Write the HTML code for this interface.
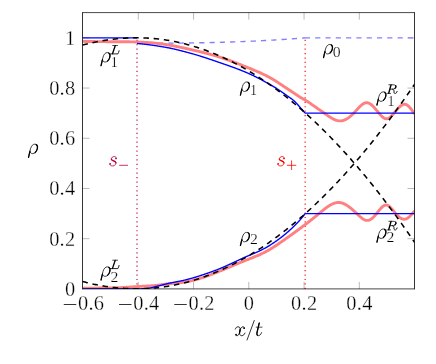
<!DOCTYPE html>
<html><head><meta charset="utf-8"><title>plot</title>
<style>html,body{margin:0;padding:0;background:#fff;}body{width:436px;height:364px;overflow:hidden;font-family:"Liberation Serif",serif;}svg{display:block;}</style>
</head><body>
<svg width="436" height="364" viewBox="0 0 436 364">
<rect width="436" height="364" fill="#fff"/>
<defs><clipPath id="c"><rect x="82.5" y="12.6" width="332.0" height="276.29999999999995"/></clipPath></defs>
<path d="M138.30,288.9 v-7 M138.30,12.6 v7 M193.56,288.9 v-7 M193.56,12.6 v7 M248.81,288.9 v-7 M248.81,12.6 v7 M304.06,288.9 v-7 M304.06,12.6 v7 M359.32,288.9 v-7 M359.32,12.6 v7 M82.5,238.69 h7 M414.5,238.69 h-7 M82.5,188.48 h7 M414.5,188.48 h-7 M82.5,138.27 h7 M414.5,138.27 h-7 M82.5,88.06 h7 M414.5,88.06 h-7 M82.5,37.85 h7 M414.5,37.85 h-7" stroke="#808080" stroke-width="0.55" fill="none"/>
<g clip-path="url(#c)" fill="none" stroke-linejoin="round">
<path d="M137.0,288.95 V39" stroke="#bf0040" stroke-width="1.15" stroke-dasharray="1.2 3.229"/>
<path d="M305.15,288.95 V36.5" stroke="#ff0000" stroke-width="1.15" stroke-dasharray="1.2 3.229"/>
<path d="M137.00,43.25 L137.00,43.25 L138.70,43.25 L140.40,43.25 L142.10,43.25 L143.79,43.25 L145.49,43.24 L147.19,43.24 L148.89,43.24 L150.59,43.24 L152.29,43.23 L153.98,43.23 L155.68,43.23 L157.38,43.22 L159.08,43.21 L160.78,43.21 L162.48,43.20 L164.18,43.19 L165.87,43.18 L167.57,43.17 L169.27,43.16 L170.97,43.15 L172.67,43.14 L174.37,43.12 L176.07,43.11 L177.76,43.09 L179.46,43.07 L181.16,43.06 L182.86,43.04 L184.56,43.02 L186.26,43.00 L187.95,42.97 L189.65,42.95 L191.35,42.93 L193.05,42.90 L194.75,42.87 L196.45,42.85 L198.15,42.82 L199.84,42.79 L201.54,42.75 L203.24,42.72 L204.94,42.69 L206.64,42.65 L208.34,42.61 L210.03,42.58 L211.73,42.54 L213.43,42.50 L215.13,42.45 L216.83,42.41 L218.53,42.36 L220.23,42.32 L221.92,42.27 L223.62,42.22 L225.32,42.17 L227.02,42.12 L228.72,42.06 L230.42,42.01 L232.12,41.95 L233.81,41.89 L235.51,41.83 L237.21,41.77 L238.91,41.70 L240.61,41.64 L242.31,41.57 L244.00,41.50 L245.70,41.43 L247.40,41.36 L249.10,41.29 L250.80,41.21 L252.50,41.14 L254.20,41.06 L255.89,40.98 L257.59,40.90 L259.29,40.81 L260.99,40.73 L262.69,40.64 L264.39,40.55 L266.08,40.46 L267.78,40.37 L269.48,40.27 L271.18,40.18 L272.88,40.08 L274.58,39.98 L276.28,39.88 L277.97,39.77 L279.67,39.67 L281.37,39.56 L283.07,39.45 L284.77,39.34 L286.47,39.23 L288.17,39.11 L289.86,38.99 L291.56,38.88 L293.26,38.75 L294.96,38.63 L296.66,38.51 L298.36,38.38 L300.05,38.25 L301.75,38.12 L303.45,37.99 L305.15,37.85" stroke="#8080ff" stroke-width="1.36" stroke-dasharray="5.2 5.1" stroke-dashoffset="-0.4"/>
<path d="M304.84999999999997,37.85 H414.5" stroke="#8080ff" stroke-width="1.36" stroke-dasharray="5.2 5.1"/>
<path d="M82.50,41.40 L83.05,41.41 L83.61,41.42 L84.16,41.42 L84.72,41.43 L85.27,41.44 L85.83,41.45 L86.38,41.45 L86.93,41.46 L87.49,41.47 L88.04,41.48 L88.60,41.48 L89.15,41.49 L89.71,41.50 L90.26,41.51 L90.81,41.51 L91.37,41.52 L91.92,41.53 L92.48,41.54 L93.03,41.54 L93.59,41.55 L94.14,41.56 L94.69,41.56 L95.25,41.57 L95.80,41.58 L96.36,41.58 L96.91,41.59 L97.46,41.60 L98.02,41.60 L98.57,41.61 L99.13,41.61 L99.68,41.62 L100.24,41.63 L100.79,41.63 L101.34,41.64 L101.90,41.64 L102.45,41.65 L103.01,41.65 L103.56,41.66 L104.12,41.66 L104.67,41.67 L105.22,41.67 L105.78,41.67 L106.33,41.68 L106.89,41.68 L107.44,41.69 L108.00,41.69 L108.55,41.69 L109.10,41.70 L109.66,41.70 L110.21,41.70 L110.77,41.70 L111.32,41.71 L111.88,41.71 L112.43,41.71 L112.98,41.71 L113.54,41.71 L114.09,41.71 L114.65,41.72 L115.20,41.72 L115.76,41.72 L116.31,41.72 L116.86,41.72 L117.42,41.72 L117.97,41.73 L118.53,41.73 L119.08,41.73 L119.64,41.73 L120.19,41.73 L120.74,41.74 L121.30,41.74 L121.85,41.74 L122.41,41.75 L122.96,41.75 L123.52,41.75 L124.07,41.76 L124.62,41.76 L125.18,41.77 L125.73,41.77 L126.29,41.78 L126.84,41.78 L127.39,41.79 L127.95,41.80 L128.50,41.81 L129.06,41.81 L129.61,41.82 L130.17,41.83 L130.72,41.84 L131.27,41.85 L131.83,41.86 L132.38,41.87 L132.94,41.89 L133.49,41.90 L134.05,41.91 L134.60,41.93 L135.15,41.94 L135.71,41.96 L136.26,41.98 L136.82,41.99 L137.37,42.01 L137.93,42.03 L138.48,42.05 L139.03,42.07 L139.59,42.10 L140.14,42.12 L140.70,42.14 L141.25,42.17 L141.81,42.19 L142.36,42.22 L142.91,42.25 L143.47,42.28 L144.02,42.31 L144.58,42.34 L145.13,42.37 L145.69,42.41 L146.24,42.44 L146.79,42.48 L147.35,42.51 L147.90,42.55 L148.46,42.59 L149.01,42.63 L149.57,42.67 L150.12,42.72 L150.67,42.76 L151.23,42.81 L151.78,42.85 L152.34,42.90 L152.89,42.95 L153.44,43.00 L154.00,43.05 L154.55,43.11 L155.11,43.16 L155.66,43.22 L156.22,43.28 L156.77,43.34 L157.32,43.40 L157.88,43.46 L158.43,43.52 L158.99,43.59 L159.54,43.65 L160.10,43.72 L160.65,43.79 L161.20,43.87 L161.76,43.94 L162.31,44.01 L162.87,44.09 L163.42,44.17 L163.98,44.25 L164.53,44.33 L165.08,44.41 L165.64,44.50 L166.19,44.58 L166.75,44.67 L167.30,44.76 L167.86,44.85 L168.41,44.95 L168.96,45.04 L169.52,45.14 L170.07,45.24 L170.63,45.33 L171.18,45.43 L171.74,45.54 L172.29,45.64 L172.84,45.74 L173.40,45.85 L173.95,45.96 L174.51,46.06 L175.06,46.17 L175.62,46.28 L176.17,46.39 L176.72,46.51 L177.28,46.62 L177.83,46.73 L178.39,46.85 L178.94,46.96 L179.49,47.08 L180.05,47.20 L180.60,47.32 L181.16,47.43 L181.71,47.55 L182.27,47.67 L182.82,47.79 L183.37,47.92 L183.93,48.04 L184.48,48.16 L185.04,48.28 L185.59,48.41 L186.15,48.53 L186.70,48.65 L187.25,48.78 L187.81,48.90 L188.36,49.03 L188.92,49.15 L189.47,49.28 L190.03,49.41 L190.58,49.53 L191.13,49.66 L191.69,49.78 L192.24,49.91 L192.80,50.04 L193.35,50.16 L193.91,50.29 L194.46,50.42 L195.01,50.55 L195.57,50.67 L196.12,50.80 L196.68,50.93 L197.23,51.06 L197.79,51.19 L198.34,51.32 L198.89,51.46 L199.45,51.59 L200.00,51.72 L200.56,51.85 L201.11,51.99 L201.67,52.12 L202.22,52.26 L202.77,52.39 L203.33,52.53 L203.88,52.67 L204.44,52.81 L204.99,52.95 L205.55,53.09 L206.10,53.23 L206.65,53.37 L207.21,53.52 L207.76,53.66 L208.32,53.81 L208.87,53.96 L209.42,54.10 L209.98,54.25 L210.53,54.40 L211.09,54.56 L211.64,54.71 L212.20,54.86 L212.75,55.02 L213.30,55.18 L213.86,55.34 L214.41,55.50 L214.97,55.66 L215.52,55.82 L216.08,55.99 L216.63,56.15 L217.18,56.32 L217.74,56.49 L218.29,56.66 L218.85,56.83 L219.40,57.01 L219.96,57.19 L220.51,57.36 L221.06,57.54 L221.62,57.73 L222.17,57.91 L222.73,58.09 L223.28,58.28 L223.84,58.47 L224.39,58.66 L224.94,58.85 L225.50,59.04 L226.05,59.24 L226.61,59.43 L227.16,59.63 L227.72,59.83 L228.27,60.03 L228.82,60.23 L229.38,60.43 L229.93,60.63 L230.49,60.84 L231.04,61.04 L231.60,61.25 L232.15,61.46 L232.70,61.67 L233.26,61.88 L233.81,62.09 L234.37,62.30 L234.92,62.51 L235.47,62.72 L236.03,62.94 L236.58,63.15 L237.14,63.37 L237.69,63.59 L238.25,63.80 L238.80,64.02 L239.35,64.24 L239.91,64.46 L240.46,64.68 L241.02,64.90 L241.57,65.12 L242.13,65.34 L242.68,65.56 L243.23,65.78 L243.79,66.01 L244.34,66.23 L244.90,66.45 L245.45,66.67 L246.01,66.90 L246.56,67.12 L247.11,67.34 L247.67,67.57 L248.22,67.79 L248.78,68.02 L249.33,68.24 L249.89,68.46 L250.44,68.69 L250.99,68.92 L251.55,69.14 L252.10,69.37 L252.66,69.60 L253.21,69.83 L253.77,70.06 L254.32,70.29 L254.87,70.52 L255.43,70.75 L255.98,70.99 L256.54,71.23 L257.09,71.46 L257.65,71.70 L258.20,71.95 L258.75,72.19 L259.31,72.43 L259.86,72.68 L260.42,72.93 L260.97,73.18 L261.53,73.44 L262.08,73.70 L262.63,73.96 L263.19,74.22 L263.74,74.48 L264.30,74.75 L264.85,75.02 L265.40,75.29 L265.96,75.57 L266.51,75.85 L267.07,76.13 L267.62,76.42 L268.18,76.71 L268.73,77.00 L269.28,77.30 L269.84,77.60 L270.39,77.91 L270.95,78.21 L271.50,78.53 L272.06,78.84 L272.61,79.17 L273.16,79.49 L273.72,79.82 L274.27,80.15 L274.83,80.49 L275.38,80.84 L275.94,81.18 L276.49,81.54 L277.04,81.89 L277.60,82.25 L278.15,82.61 L278.71,82.98 L279.26,83.35 L279.82,83.72 L280.37,84.09 L280.92,84.46 L281.48,84.83 L282.03,85.21 L282.59,85.58 L283.14,85.95 L283.70,86.33 L284.25,86.70 L284.80,87.07 L285.36,87.44 L285.91,87.81 L286.47,88.17 L287.02,88.54 L287.58,88.90 L288.13,89.27 L288.68,89.63 L289.24,89.99 L289.79,90.35 L290.35,90.72 L290.90,91.08 L291.45,91.44 L292.01,91.81 L292.56,92.17 L293.12,92.54 L293.67,92.91 L294.23,93.28 L294.78,93.65 L295.33,94.03 L295.89,94.40 L296.44,94.78 L297.00,95.15 L297.55,95.52 L298.11,95.89 L298.66,96.25 L299.21,96.61 L299.77,96.96 L300.32,97.30 L300.88,97.63 L301.43,97.95 L301.99,98.27 L302.54,98.58 L303.09,98.90 L303.65,99.21 L304.20,99.53 L304.76,99.86 L305.31,100.19 L305.87,100.52 L306.42,100.87 L306.97,101.22 L307.53,101.57 L308.08,101.94 L308.64,102.30 L309.19,102.67 L309.75,103.05 L310.30,103.43 L310.85,103.81 L311.41,104.19 L311.96,104.58 L312.52,104.96 L313.07,105.35 L313.63,105.74 L314.18,106.13 L314.73,106.51 L315.29,106.90 L315.84,107.29 L316.40,107.67 L316.95,108.05 L317.51,108.44 L318.06,108.82 L318.61,109.20 L319.17,109.59 L319.72,109.97 L320.28,110.35 L320.83,110.74 L321.38,111.12 L321.94,111.51 L322.49,111.90 L323.05,112.29 L323.60,112.68 L324.16,113.07 L324.71,113.46 L325.26,113.86 L325.82,114.26 L326.37,114.65 L326.93,115.04 L327.48,115.43 L328.04,115.82 L328.59,116.20 L329.14,116.57 L329.70,116.93 L330.25,117.29 L330.81,117.64 L331.36,117.97 L331.92,118.29 L332.47,118.60 L333.02,118.90 L333.58,119.18 L334.13,119.44 L334.69,119.68 L335.24,119.91 L335.80,120.11 L336.35,120.30 L336.90,120.46 L337.46,120.60 L338.01,120.71 L338.57,120.80 L339.12,120.86 L339.68,120.89 L340.23,120.90 L340.78,120.87 L341.34,120.82 L341.89,120.74 L342.45,120.63 L343.00,120.49 L343.56,120.32 L344.11,120.13 L344.66,119.92 L345.22,119.67 L345.77,119.41 L346.33,119.12 L346.88,118.80 L347.43,118.46 L347.99,118.10 L348.54,117.72 L349.10,117.32 L349.65,116.89 L350.21,116.45 L350.76,115.98 L351.31,115.50 L351.87,114.99 L352.42,114.47 L352.98,113.93 L353.53,113.38 L354.09,112.80 L354.64,112.21 L355.19,111.61 L355.75,111.01 L356.30,110.39 L356.86,109.78 L357.41,109.17 L357.97,108.57 L358.52,107.98 L359.07,107.40 L359.63,106.84 L360.18,106.30 L360.74,105.78 L361.29,105.29 L361.85,104.83 L362.40,104.41 L362.95,104.02 L363.51,103.68 L364.06,103.38 L364.62,103.13 L365.17,102.93 L365.73,102.79 L366.28,102.71 L366.83,102.69 L367.39,102.74 L367.94,102.85 L368.50,103.03 L369.05,103.26 L369.61,103.55 L370.16,103.88 L370.71,104.27 L371.27,104.69 L371.82,105.16 L372.38,105.67 L372.93,106.20 L373.48,106.77 L374.04,107.36 L374.59,107.97 L375.15,108.61 L375.70,109.25 L376.26,109.91 L376.81,110.58 L377.36,111.25 L377.92,111.92 L378.47,112.59 L379.03,113.25 L379.58,113.90 L380.14,114.54 L380.69,115.15 L381.24,115.73 L381.80,116.28 L382.35,116.80 L382.91,117.26 L383.46,117.68 L384.02,118.04 L384.57,118.33 L385.12,118.56 L385.68,118.72 L386.23,118.79 L386.79,118.78 L387.34,118.69 L387.90,118.52 L388.45,118.28 L389.00,117.97 L389.56,117.61 L390.11,117.18 L390.67,116.71 L391.22,116.20 L391.78,115.64 L392.33,115.06 L392.88,114.44 L393.44,113.81 L393.99,113.16 L394.55,112.50 L395.10,111.83 L395.66,111.17 L396.21,110.51 L396.76,109.85 L397.32,109.21 L397.87,108.59 L398.43,107.99 L398.98,107.42 L399.54,106.88 L400.09,106.37 L400.64,105.91 L401.20,105.49 L401.75,105.13 L402.31,104.81 L402.86,104.56 L403.41,104.37 L403.97,104.26 L404.52,104.21 L405.08,104.24 L405.63,104.36 L406.19,104.56 L406.74,104.83 L407.29,105.18 L407.85,105.60 L408.40,106.08 L408.96,106.62 L409.51,107.21 L410.07,107.85 L410.62,108.52 L411.17,109.24 L411.73,109.98 L412.28,110.76 L412.84,111.55 L413.39,112.36 L413.95,113.18 L414.50,114.00" stroke="#ff8080" stroke-width="2.9"/>
<path d="M82.50,288.20 L83.05,288.20 L83.61,288.19 L84.16,288.19 L84.72,288.18 L85.27,288.18 L85.83,288.18 L86.38,288.17 L86.93,288.17 L87.49,288.16 L88.04,288.16 L88.60,288.15 L89.15,288.15 L89.71,288.15 L90.26,288.14 L90.81,288.14 L91.37,288.13 L91.92,288.13 L92.48,288.12 L93.03,288.12 L93.59,288.11 L94.14,288.11 L94.69,288.11 L95.25,288.10 L95.80,288.10 L96.36,288.09 L96.91,288.09 L97.46,288.08 L98.02,288.08 L98.57,288.07 L99.13,288.06 L99.68,288.06 L100.24,288.05 L100.79,288.05 L101.34,288.04 L101.90,288.04 L102.45,288.03 L103.01,288.02 L103.56,288.02 L104.12,288.01 L104.67,288.00 L105.22,288.00 L105.78,287.99 L106.33,287.98 L106.89,287.98 L107.44,287.97 L108.00,287.96 L108.55,287.95 L109.10,287.94 L109.66,287.94 L110.21,287.93 L110.77,287.92 L111.32,287.91 L111.88,287.90 L112.43,287.88 L112.98,287.87 L113.54,287.86 L114.09,287.85 L114.65,287.83 L115.20,287.82 L115.76,287.80 L116.31,287.79 L116.86,287.77 L117.42,287.75 L117.97,287.73 L118.53,287.71 L119.08,287.69 L119.64,287.67 L120.19,287.65 L120.74,287.62 L121.30,287.60 L121.85,287.57 L122.41,287.55 L122.96,287.52 L123.52,287.49 L124.07,287.46 L124.62,287.42 L125.18,287.39 L125.73,287.35 L126.29,287.32 L126.84,287.28 L127.39,287.24 L127.95,287.20 L128.50,287.16 L129.06,287.12 L129.61,287.08 L130.17,287.04 L130.72,287.00 L131.27,286.96 L131.83,286.92 L132.38,286.88 L132.94,286.84 L133.49,286.80 L134.05,286.76 L134.60,286.73 L135.15,286.69 L135.71,286.66 L136.26,286.62 L136.82,286.59 L137.37,286.56 L137.93,286.53 L138.48,286.50 L139.03,286.47 L139.59,286.44 L140.14,286.41 L140.70,286.38 L141.25,286.35 L141.81,286.33 L142.36,286.30 L142.91,286.27 L143.47,286.24 L144.02,286.22 L144.58,286.19 L145.13,286.16 L145.69,286.13 L146.24,286.10 L146.79,286.07 L147.35,286.04 L147.90,286.01 L148.46,285.98 L149.01,285.95 L149.57,285.91 L150.12,285.88 L150.67,285.84 L151.23,285.80 L151.78,285.76 L152.34,285.72 L152.89,285.68 L153.44,285.63 L154.00,285.59 L154.55,285.54 L155.11,285.49 L155.66,285.43 L156.22,285.38 L156.77,285.32 L157.32,285.26 L157.88,285.20 L158.43,285.14 L158.99,285.07 L159.54,285.00 L160.10,284.93 L160.65,284.86 L161.20,284.79 L161.76,284.71 L162.31,284.64 L162.87,284.56 L163.42,284.49 L163.98,284.41 L164.53,284.33 L165.08,284.26 L165.64,284.18 L166.19,284.11 L166.75,284.03 L167.30,283.96 L167.86,283.89 L168.41,283.82 L168.96,283.75 L169.52,283.69 L170.07,283.62 L170.63,283.56 L171.18,283.50 L171.74,283.45 L172.29,283.39 L172.84,283.34 L173.40,283.28 L173.95,283.23 L174.51,283.18 L175.06,283.13 L175.62,283.08 L176.17,283.02 L176.72,282.97 L177.28,282.92 L177.83,282.87 L178.39,282.81 L178.94,282.75 L179.49,282.70 L180.05,282.64 L180.60,282.58 L181.16,282.51 L181.71,282.45 L182.27,282.38 L182.82,282.31 L183.37,282.24 L183.93,282.16 L184.48,282.08 L185.04,281.99 L185.59,281.91 L186.15,281.81 L186.70,281.72 L187.25,281.62 L187.81,281.51 L188.36,281.41 L188.92,281.30 L189.47,281.18 L190.03,281.06 L190.58,280.94 L191.13,280.82 L191.69,280.69 L192.24,280.56 L192.80,280.42 L193.35,280.29 L193.91,280.15 L194.46,280.00 L195.01,279.85 L195.57,279.70 L196.12,279.55 L196.68,279.40 L197.23,279.24 L197.79,279.08 L198.34,278.91 L198.89,278.75 L199.45,278.58 L200.00,278.41 L200.56,278.23 L201.11,278.05 L201.67,277.88 L202.22,277.69 L202.77,277.51 L203.33,277.33 L203.88,277.14 L204.44,276.95 L204.99,276.76 L205.55,276.56 L206.10,276.37 L206.65,276.17 L207.21,275.97 L207.76,275.77 L208.32,275.56 L208.87,275.36 L209.42,275.15 L209.98,274.94 L210.53,274.74 L211.09,274.52 L211.64,274.31 L212.20,274.10 L212.75,273.88 L213.30,273.67 L213.86,273.45 L214.41,273.23 L214.97,273.01 L215.52,272.79 L216.08,272.57 L216.63,272.35 L217.18,272.13 L217.74,271.90 L218.29,271.68 L218.85,271.45 L219.40,271.22 L219.96,271.00 L220.51,270.77 L221.06,270.54 L221.62,270.31 L222.17,270.08 L222.73,269.85 L223.28,269.62 L223.84,269.39 L224.39,269.16 L224.94,268.93 L225.50,268.69 L226.05,268.46 L226.61,268.23 L227.16,268.00 L227.72,267.76 L228.27,267.53 L228.82,267.30 L229.38,267.06 L229.93,266.83 L230.49,266.60 L231.04,266.36 L231.60,266.13 L232.15,265.90 L232.70,265.66 L233.26,265.43 L233.81,265.20 L234.37,264.96 L234.92,264.73 L235.47,264.50 L236.03,264.27 L236.58,264.04 L237.14,263.81 L237.69,263.58 L238.25,263.35 L238.80,263.12 L239.35,262.89 L239.91,262.66 L240.46,262.43 L241.02,262.21 L241.57,261.98 L242.13,261.75 L242.68,261.53 L243.23,261.31 L243.79,261.08 L244.34,260.86 L244.90,260.64 L245.45,260.42 L246.01,260.20 L246.56,259.98 L247.11,259.77 L247.67,259.55 L248.22,259.33 L248.78,259.12 L249.33,258.90 L249.89,258.68 L250.44,258.46 L250.99,258.25 L251.55,258.03 L252.10,257.81 L252.66,257.59 L253.21,257.37 L253.77,257.14 L254.32,256.92 L254.87,256.69 L255.43,256.47 L255.98,256.24 L256.54,256.01 L257.09,255.77 L257.65,255.54 L258.20,255.30 L258.75,255.06 L259.31,254.81 L259.86,254.57 L260.42,254.32 L260.97,254.06 L261.53,253.81 L262.08,253.55 L262.63,253.28 L263.19,253.02 L263.74,252.75 L264.30,252.47 L264.85,252.19 L265.40,251.91 L265.96,251.62 L266.51,251.32 L267.07,251.02 L267.62,250.72 L268.18,250.41 L268.73,250.10 L269.28,249.78 L269.84,249.45 L270.39,249.12 L270.95,248.79 L271.50,248.45 L272.06,248.10 L272.61,247.75 L273.16,247.40 L273.72,247.04 L274.27,246.68 L274.83,246.32 L275.38,245.95 L275.94,245.58 L276.49,245.21 L277.04,244.83 L277.60,244.46 L278.15,244.08 L278.71,243.70 L279.26,243.32 L279.82,242.93 L280.37,242.55 L280.92,242.16 L281.48,241.78 L282.03,241.39 L282.59,241.00 L283.14,240.61 L283.70,240.23 L284.25,239.84 L284.80,239.45 L285.36,239.06 L285.91,238.67 L286.47,238.28 L287.02,237.89 L287.58,237.50 L288.13,237.10 L288.68,236.71 L289.24,236.32 L289.79,235.92 L290.35,235.52 L290.90,235.13 L291.45,234.73 L292.01,234.33 L292.56,233.94 L293.12,233.54 L293.67,233.14 L294.23,232.73 L294.78,232.33 L295.33,231.93 L295.89,231.53 L296.44,231.12 L297.00,230.72 L297.55,230.31 L298.11,229.90 L298.66,229.49 L299.21,229.08 L299.77,228.67 L300.32,228.26 L300.88,227.85 L301.43,227.43 L301.99,227.02 L302.54,226.60 L303.09,226.18 L303.65,225.77 L304.20,225.35 L304.76,224.92 L305.31,224.50 L305.87,224.08 L306.42,223.65 L306.97,223.23 L307.53,222.80 L308.08,222.37 L308.64,221.94 L309.19,221.51 L309.75,221.08 L310.30,220.64 L310.85,220.20 L311.41,219.77 L311.96,219.33 L312.52,218.89 L313.07,218.45 L313.63,218.00 L314.18,217.56 L314.73,217.11 L315.29,216.66 L315.84,216.21 L316.40,215.76 L316.95,215.31 L317.51,214.85 L318.06,214.40 L318.61,213.94 L319.17,213.48 L319.72,213.02 L320.28,212.55 L320.83,212.09 L321.38,211.63 L321.94,211.17 L322.49,210.72 L323.05,210.27 L323.60,209.82 L324.16,209.38 L324.71,208.94 L325.26,208.51 L325.82,208.09 L326.37,207.68 L326.93,207.27 L327.48,206.88 L328.04,206.50 L328.59,206.13 L329.14,205.77 L329.70,205.43 L330.25,205.10 L330.81,204.79 L331.36,204.49 L331.92,204.21 L332.47,203.95 L333.02,203.71 L333.58,203.48 L334.13,203.28 L334.69,203.10 L335.24,202.94 L335.80,202.80 L336.35,202.69 L336.90,202.60 L337.46,202.54 L338.01,202.50 L338.57,202.49 L339.12,202.51 L339.68,202.55 L340.23,202.63 L340.78,202.73 L341.34,202.85 L341.89,203.00 L342.45,203.18 L343.00,203.38 L343.56,203.60 L344.11,203.85 L344.66,204.11 L345.22,204.40 L345.77,204.70 L346.33,205.02 L346.88,205.37 L347.43,205.73 L347.99,206.10 L348.54,206.49 L349.10,206.90 L349.65,207.32 L350.21,207.75 L350.76,208.19 L351.31,208.65 L351.87,209.11 L352.42,209.59 L352.98,210.08 L353.53,210.57 L354.09,211.07 L354.64,211.58 L355.19,212.09 L355.75,212.61 L356.30,213.13 L356.86,213.66 L357.41,214.19 L357.97,214.72 L358.52,215.24 L359.07,215.76 L359.63,216.26 L360.18,216.76 L360.74,217.23 L361.29,217.69 L361.85,218.12 L362.40,218.52 L362.95,218.90 L363.51,219.24 L364.06,219.55 L364.62,219.81 L365.17,220.03 L365.73,220.21 L366.28,220.33 L366.83,220.40 L367.39,220.42 L367.94,220.37 L368.50,220.27 L369.05,220.10 L369.61,219.89 L370.16,219.62 L370.71,219.30 L371.27,218.93 L371.82,218.52 L372.38,218.07 L372.93,217.58 L373.48,217.06 L374.04,216.50 L374.59,215.91 L375.15,215.30 L375.70,214.66 L376.26,214.00 L376.81,213.32 L377.36,212.62 L377.92,211.92 L378.47,211.22 L379.03,210.52 L379.58,209.84 L380.14,209.18 L380.69,208.54 L381.24,207.93 L381.80,207.36 L382.35,206.84 L382.91,206.37 L383.46,205.96 L384.02,205.61 L384.57,205.33 L385.12,205.14 L385.68,205.02 L386.23,205.00 L386.79,205.08 L387.34,205.24 L387.90,205.48 L388.45,205.80 L389.00,206.18 L389.56,206.62 L390.11,207.12 L390.67,207.67 L391.22,208.25 L391.78,208.87 L392.33,209.51 L392.88,210.17 L393.44,210.85 L393.99,211.53 L394.55,212.21 L395.10,212.88 L395.66,213.53 L396.21,214.17 L396.76,214.77 L397.32,215.35 L397.87,215.90 L398.43,216.42 L398.98,216.90 L399.54,217.34 L400.09,217.74 L400.64,218.10 L401.20,218.42 L401.75,218.69 L402.31,218.90 L402.86,219.07 L403.41,219.18 L403.97,219.24 L404.52,219.23 L405.08,219.17 L405.63,219.04 L406.19,218.84 L406.74,218.59 L407.29,218.28 L407.85,217.92 L408.40,217.51 L408.96,217.06 L409.51,216.57 L410.07,216.04 L410.62,215.48 L411.17,214.89 L411.73,214.28 L412.28,213.65 L412.84,213.00 L413.39,212.34 L413.95,211.67 L414.50,211.00" stroke="#ff8080" stroke-width="2.9"/>
<path d="M82.50,37.85 L137.00,37.85" stroke="#0000ff" stroke-width="1.38"/>
<path d="M137.00,43.50 L137.42,43.53 L137.84,43.57 L138.26,43.60 L138.69,43.64 L139.11,43.67 L139.53,43.71 L139.95,43.75 L140.37,43.79 L140.79,43.83 L141.22,43.87 L141.64,43.91 L142.06,43.95 L142.48,44.00 L142.90,44.04 L143.32,44.09 L143.74,44.13 L144.17,44.18 L144.59,44.22 L145.01,44.27 L145.43,44.32 L145.85,44.37 L146.27,44.42 L146.70,44.47 L147.12,44.52 L147.54,44.57 L147.96,44.63 L148.38,44.68 L148.80,44.73 L149.23,44.79 L149.65,44.84 L150.07,44.90 L150.49,44.96 L150.91,45.01 L151.33,45.07 L151.75,45.13 L152.18,45.19 L152.60,45.25 L153.02,45.31 L153.44,45.37 L153.86,45.43 L154.28,45.49 L154.71,45.55 L155.13,45.61 L155.55,45.68 L155.97,45.74 L156.39,45.80 L156.81,45.87 L157.23,45.93 L157.66,46.00 L158.08,46.06 L158.50,46.13 L158.92,46.20 L159.34,46.26 L159.76,46.33 L160.19,46.40 L160.61,46.47 L161.03,46.54 L161.45,46.61 L161.87,46.68 L162.29,46.75 L162.71,46.82 L163.14,46.89 L163.56,46.96 L163.98,47.03 L164.40,47.10 L164.82,47.17 L165.24,47.24 L165.67,47.32 L166.09,47.39 L166.51,47.47 L166.93,47.54 L167.35,47.62 L167.77,47.70 L168.19,47.78 L168.62,47.86 L169.04,47.95 L169.46,48.03 L169.88,48.12 L170.30,48.20 L170.72,48.29 L171.15,48.38 L171.57,48.47 L171.99,48.56 L172.41,48.65 L172.83,48.75 L173.25,48.84 L173.68,48.94 L174.10,49.03 L174.52,49.13 L174.94,49.23 L175.36,49.33 L175.78,49.42 L176.20,49.52 L176.63,49.63 L177.05,49.73 L177.47,49.83 L177.89,49.93 L178.31,50.04 L178.73,50.14 L179.16,50.25 L179.58,50.35 L180.00,50.46 L180.42,50.56 L180.84,50.67 L181.26,50.78 L181.68,50.89 L182.11,51.00 L182.53,51.11 L182.95,51.22 L183.37,51.33 L183.79,51.44 L184.21,51.55 L184.64,51.66 L185.06,51.77 L185.48,51.88 L185.90,52.00 L186.32,52.11 L186.74,52.22 L187.16,52.34 L187.59,52.45 L188.01,52.56 L188.43,52.68 L188.85,52.79 L189.27,52.90 L189.69,53.02 L190.12,53.13 L190.54,53.25 L190.96,53.36 L191.38,53.48 L191.80,53.60 L192.22,53.71 L192.65,53.83 L193.07,53.95 L193.49,54.07 L193.91,54.19 L194.33,54.32 L194.75,54.44 L195.17,54.56 L195.60,54.69 L196.02,54.81 L196.44,54.94 L196.86,55.06 L197.28,55.19 L197.70,55.32 L198.13,55.44 L198.55,55.57 L198.97,55.70 L199.39,55.83 L199.81,55.96 L200.23,56.10 L200.65,56.23 L201.08,56.36 L201.50,56.49 L201.92,56.63 L202.34,56.76 L202.76,56.90 L203.18,57.03 L203.61,57.17 L204.03,57.30 L204.45,57.44 L204.87,57.58 L205.29,57.71 L205.71,57.85 L206.13,57.99 L206.56,58.13 L206.98,58.27 L207.40,58.41 L207.82,58.55 L208.24,58.69 L208.66,58.83 L209.09,58.97 L209.51,59.11 L209.93,59.25 L210.35,59.39 L210.77,59.54 L211.19,59.68 L211.62,59.82 L212.04,59.97 L212.46,60.11 L212.88,60.25 L213.30,60.40 L213.72,60.54 L214.14,60.68 L214.57,60.83 L214.99,60.97 L215.41,61.12 L215.83,61.26 L216.25,61.41 L216.67,61.55 L217.10,61.70 L217.52,61.84 L217.94,61.99 L218.36,62.13 L218.78,62.28 L219.20,62.42 L219.62,62.57 L220.05,62.72 L220.47,62.86 L220.89,63.01 L221.31,63.15 L221.73,63.30 L222.15,63.44 L222.58,63.59 L223.00,63.73 L223.42,63.88 L223.84,64.03 L224.26,64.17 L224.68,64.32 L225.10,64.46 L225.53,64.61 L225.95,64.76 L226.37,64.90 L226.79,65.05 L227.21,65.20 L227.63,65.35 L228.06,65.49 L228.48,65.64 L228.90,65.79 L229.32,65.94 L229.74,66.09 L230.16,66.24 L230.58,66.39 L231.01,66.54 L231.43,66.69 L231.85,66.84 L232.27,66.99 L232.69,67.15 L233.11,67.30 L233.54,67.45 L233.96,67.61 L234.38,67.76 L234.80,67.92 L235.22,68.07 L235.64,68.23 L236.07,68.39 L236.49,68.55 L236.91,68.71 L237.33,68.87 L237.75,69.03 L238.17,69.19 L238.59,69.35 L239.02,69.51 L239.44,69.68 L239.86,69.84 L240.28,70.01 L240.70,70.17 L241.12,70.34 L241.55,70.51 L241.97,70.68 L242.39,70.85 L242.81,71.02 L243.23,71.19 L243.65,71.37 L244.07,71.54 L244.50,71.72 L244.92,71.89 L245.34,72.07 L245.76,72.25 L246.18,72.43 L246.60,72.61 L247.03,72.79 L247.45,72.98 L247.87,73.16 L248.29,73.35 L248.71,73.54 L249.13,73.73 L249.55,73.92 L249.98,74.11 L250.40,74.30 L250.82,74.49 L251.24,74.69 L251.66,74.89 L252.08,75.08 L252.51,75.28 L252.93,75.48 L253.35,75.68 L253.77,75.89 L254.19,76.09 L254.61,76.30 L255.04,76.50 L255.46,76.71 L255.88,76.92 L256.30,77.13 L256.72,77.34 L257.14,77.55 L257.56,77.76 L257.99,77.98 L258.41,78.19 L258.83,78.41 L259.25,78.63 L259.67,78.85 L260.09,79.07 L260.52,79.29 L260.94,79.51 L261.36,79.73 L261.78,79.96 L262.20,80.18 L262.62,80.41 L263.04,80.64 L263.47,80.87 L263.89,81.09 L264.31,81.33 L264.73,81.56 L265.15,81.79 L265.57,82.02 L266.00,82.26 L266.42,82.49 L266.84,82.73 L267.26,82.97 L267.68,83.21 L268.10,83.45 L268.52,83.69 L268.95,83.93 L269.37,84.17 L269.79,84.41 L270.21,84.66 L270.63,84.90 L271.05,85.15 L271.48,85.40 L271.90,85.65 L272.32,85.90 L272.74,86.15 L273.16,86.40 L273.58,86.65 L274.01,86.90 L274.43,87.15 L274.85,87.41 L275.27,87.66 L275.69,87.92 L276.11,88.19 L276.53,88.45 L276.96,88.72 L277.38,88.99 L277.80,89.27 L278.22,89.54 L278.64,89.82 L279.06,90.11 L279.49,90.39 L279.91,90.68 L280.33,90.97 L280.75,91.26 L281.17,91.55 L281.59,91.84 L282.01,92.14 L282.44,92.43 L282.86,92.73 L283.28,93.03 L283.70,93.33 L284.12,93.63 L284.54,93.93 L284.97,94.23 L285.39,94.53 L285.81,94.84 L286.23,95.14 L286.65,95.44 L287.07,95.74 L287.49,96.04 L287.92,96.34 L288.34,96.64 L288.76,96.93 L289.18,97.22 L289.60,97.51 L290.02,97.80 L290.45,98.09 L290.87,98.38 L291.29,98.68 L291.71,98.99 L292.13,99.30 L292.55,99.62 L292.97,99.95 L293.40,100.29 L293.82,100.64 L294.24,101.01 L294.66,101.40 L295.08,101.82 L295.50,102.24 L295.93,102.69 L296.35,103.14 L296.77,103.61 L297.19,104.08 L297.61,104.56 L298.03,105.05 L298.46,105.53 L298.88,106.02 L299.30,106.50 L299.72,106.98 L300.14,107.45 L300.56,107.91 L300.98,108.38 L301.41,108.85 L301.83,109.32 L302.25,109.80 L302.67,110.27 L303.09,110.75 L303.51,111.22 L303.94,111.70 L304.36,112.18 L304.78,112.67 L305.20,113.15 L414.50,113.15" stroke="#0000ff" stroke-width="1.38"/>
<path d="M82.50,288.90 L137.00,288.90 L137.42,288.90 L137.84,288.90 L138.26,288.89 L138.69,288.88 L139.11,288.88 L139.53,288.87 L139.95,288.86 L140.37,288.84 L140.79,288.83 L141.22,288.82 L141.64,288.80 L142.06,288.79 L142.48,288.77 L142.90,288.75 L143.32,288.74 L143.74,288.71 L144.17,288.69 L144.59,288.66 L145.01,288.62 L145.43,288.58 L145.85,288.54 L146.27,288.50 L146.70,288.45 L147.12,288.41 L147.54,288.36 L147.96,288.30 L148.38,288.25 L148.80,288.19 L149.23,288.12 L149.65,288.05 L150.07,287.97 L150.49,287.88 L150.91,287.80 L151.33,287.70 L151.75,287.61 L152.18,287.51 L152.60,287.40 L153.02,287.30 L153.44,287.19 L153.86,287.08 L154.28,286.97 L154.71,286.86 L155.13,286.75 L155.55,286.64 L155.97,286.53 L156.39,286.42 L156.81,286.32 L157.23,286.21 L157.66,286.11 L158.08,286.01 L158.50,285.91 L158.92,285.80 L159.34,285.70 L159.76,285.60 L160.19,285.49 L160.61,285.39 L161.03,285.28 L161.45,285.17 L161.87,285.06 L162.29,284.96 L162.71,284.85 L163.14,284.74 L163.56,284.63 L163.98,284.52 L164.40,284.42 L164.82,284.31 L165.24,284.20 L165.67,284.10 L166.09,283.99 L166.51,283.89 L166.93,283.78 L167.35,283.68 L167.77,283.58 L168.19,283.48 L168.62,283.38 L169.04,283.28 L169.46,283.19 L169.88,283.09 L170.30,283.00 L170.72,282.91 L171.15,282.82 L171.57,282.73 L171.99,282.65 L172.41,282.56 L172.83,282.48 L173.25,282.39 L173.68,282.31 L174.10,282.23 L174.52,282.15 L174.94,282.07 L175.36,281.98 L175.78,281.90 L176.20,281.82 L176.63,281.74 L177.05,281.66 L177.47,281.58 L177.89,281.50 L178.31,281.42 L178.73,281.34 L179.16,281.26 L179.58,281.18 L180.00,281.09 L180.42,281.01 L180.84,280.92 L181.26,280.84 L181.68,280.75 L182.11,280.66 L182.53,280.57 L182.95,280.48 L183.37,280.38 L183.79,280.29 L184.21,280.19 L184.64,280.09 L185.06,279.99 L185.48,279.88 L185.90,279.78 L186.32,279.67 L186.74,279.57 L187.16,279.46 L187.59,279.35 L188.01,279.24 L188.43,279.13 L188.85,279.02 L189.27,278.90 L189.69,278.79 L190.12,278.68 L190.54,278.56 L190.96,278.44 L191.38,278.33 L191.80,278.21 L192.22,278.09 L192.65,277.97 L193.07,277.84 L193.49,277.72 L193.91,277.60 L194.33,277.47 L194.75,277.35 L195.17,277.22 L195.60,277.10 L196.02,276.97 L196.44,276.84 L196.86,276.71 L197.28,276.58 L197.70,276.45 L198.13,276.32 L198.55,276.19 L198.97,276.05 L199.39,275.92 L199.81,275.78 L200.23,275.65 L200.65,275.51 L201.08,275.37 L201.50,275.24 L201.92,275.10 L202.34,274.96 L202.76,274.82 L203.18,274.68 L203.61,274.54 L204.03,274.39 L204.45,274.25 L204.87,274.11 L205.29,273.96 L205.71,273.82 L206.13,273.67 L206.56,273.53 L206.98,273.38 L207.40,273.24 L207.82,273.09 L208.24,272.94 L208.66,272.79 L209.09,272.64 L209.51,272.49 L209.93,272.34 L210.35,272.19 L210.77,272.04 L211.19,271.89 L211.62,271.74 L212.04,271.58 L212.46,271.43 L212.88,271.28 L213.30,271.12 L213.72,270.97 L214.14,270.82 L214.57,270.66 L214.99,270.50 L215.41,270.35 L215.83,270.19 L216.25,270.03 L216.67,269.87 L217.10,269.71 L217.52,269.54 L217.94,269.37 L218.36,269.21 L218.78,269.04 L219.20,268.87 L219.62,268.70 L220.05,268.52 L220.47,268.35 L220.89,268.17 L221.31,267.99 L221.73,267.82 L222.15,267.64 L222.58,267.46 L223.00,267.27 L223.42,267.09 L223.84,266.91 L224.26,266.72 L224.68,266.54 L225.10,266.35 L225.53,266.16 L225.95,265.98 L226.37,265.79 L226.79,265.60 L227.21,265.41 L227.63,265.22 L228.06,265.02 L228.48,264.83 L228.90,264.64 L229.32,264.44 L229.74,264.25 L230.16,264.06 L230.58,263.86 L231.01,263.67 L231.43,263.47 L231.85,263.27 L232.27,263.08 L232.69,262.88 L233.11,262.68 L233.54,262.49 L233.96,262.29 L234.38,262.09 L234.80,261.90 L235.22,261.70 L235.64,261.50 L236.07,261.30 L236.49,261.11 L236.91,260.91 L237.33,260.71 L237.75,260.52 L238.17,260.32 L238.59,260.12 L239.02,259.93 L239.44,259.73 L239.86,259.54 L240.28,259.34 L240.70,259.15 L241.12,258.95 L241.55,258.76 L241.97,258.57 L242.39,258.38 L242.81,258.18 L243.23,257.99 L243.65,257.80 L244.07,257.61 L244.50,257.42 L244.92,257.24 L245.34,257.05 L245.76,256.86 L246.18,256.68 L246.60,256.50 L247.03,256.32 L247.45,256.14 L247.87,255.96 L248.29,255.78 L248.71,255.60 L249.13,255.42 L249.55,255.24 L249.98,255.07 L250.40,254.89 L250.82,254.72 L251.24,254.54 L251.66,254.36 L252.08,254.19 L252.51,254.01 L252.93,253.83 L253.35,253.66 L253.77,253.48 L254.19,253.30 L254.61,253.12 L255.04,252.94 L255.46,252.76 L255.88,252.58 L256.30,252.39 L256.72,252.21 L257.14,252.02 L257.56,251.83 L257.99,251.64 L258.41,251.45 L258.83,251.26 L259.25,251.06 L259.67,250.86 L260.09,250.66 L260.52,250.46 L260.94,250.25 L261.36,250.05 L261.78,249.84 L262.20,249.62 L262.62,249.41 L263.04,249.19 L263.47,248.96 L263.89,248.74 L264.31,248.51 L264.73,248.28 L265.15,248.05 L265.57,247.81 L266.00,247.57 L266.42,247.33 L266.84,247.09 L267.26,246.84 L267.68,246.59 L268.10,246.34 L268.52,246.09 L268.95,245.83 L269.37,245.57 L269.79,245.31 L270.21,245.05 L270.63,244.78 L271.05,244.51 L271.48,244.24 L271.90,243.97 L272.32,243.70 L272.74,243.42 L273.16,243.14 L273.58,242.86 L274.01,242.57 L274.43,242.28 L274.85,241.99 L275.27,241.70 L275.69,241.41 L276.11,241.11 L276.53,240.82 L276.96,240.52 L277.38,240.21 L277.80,239.91 L278.22,239.60 L278.64,239.29 L279.06,238.98 L279.49,238.67 L279.91,238.36 L280.33,238.04 L280.75,237.72 L281.17,237.40 L281.59,237.08 L282.01,236.75 L282.44,236.42 L282.86,236.09 L283.28,235.75 L283.70,235.41 L284.12,235.07 L284.54,234.73 L284.97,234.38 L285.39,234.03 L285.81,233.68 L286.23,233.32 L286.65,232.96 L287.07,232.60 L287.49,232.23 L287.92,231.86 L288.34,231.49 L288.76,231.12 L289.18,230.74 L289.60,230.36 L290.02,229.97 L290.45,229.59 L290.87,229.20 L291.29,228.80 L291.71,228.41 L292.13,228.01 L292.55,227.61 L292.97,227.20 L293.40,226.79 L293.82,226.38 L294.24,225.97 L294.66,225.55 L295.08,225.13 L295.50,224.71 L295.93,224.28 L296.35,223.85 L296.77,223.42 L297.19,222.98 L297.61,222.54 L298.03,222.10 L298.46,221.66 L298.88,221.21 L299.30,220.76 L299.72,220.30 L300.14,219.85 L300.56,219.38 L300.98,218.89 L301.41,218.40 L301.83,217.89 L302.25,217.37 L302.67,216.85 L303.09,216.32 L303.51,215.78 L303.94,215.24 L304.36,214.69 L304.78,214.15 L305.20,213.60 L414.50,213.60" stroke="#0000ff" stroke-width="1.38"/>
<path d="M82.50,45.11 L83.61,44.81 L84.72,44.52 L85.83,44.24 L86.94,43.96 L88.05,43.69 L89.16,43.43 L90.27,43.17 L91.38,42.92 L92.49,42.67 L93.60,42.43 L94.71,42.20 L95.82,41.97 L96.93,41.75 L98.05,41.53 L99.16,41.32 L100.27,41.12 L101.38,40.92 L102.49,40.73 L103.60,40.54 L104.71,40.37 L105.82,40.19 L106.93,40.02 L108.04,39.86 L109.15,39.71 L110.26,39.56 L111.37,39.42 L112.48,39.28 L113.59,39.15 L114.70,39.02 L115.81,38.90 L116.92,38.79 L118.03,38.69 L119.14,38.58 L120.25,38.49 L121.36,38.40 L122.47,38.32 L123.58,38.24 L124.69,38.17 L125.80,38.11 L126.91,38.05 L128.03,38.00 L129.14,37.95 L130.25,37.91 L131.36,37.88 L132.47,37.85 L133.58,37.83 L134.69,37.81 L135.80,37.80 L136.91,37.80 L138.02,37.80 L139.13,37.81 L140.24,37.83 L141.35,37.85 L142.46,37.88 L143.57,37.91 L144.68,37.96 L145.79,38.01 L146.90,38.06 L148.01,38.12 L149.12,38.19 L150.23,38.26 L151.34,38.35 L152.45,38.43 L153.56,38.53 L154.67,38.63 L155.78,38.74 L156.89,38.85 L158.01,38.97 L159.12,39.10 L160.23,39.23 L161.34,39.37 L162.45,39.52 L163.56,39.67 L164.67,39.83 L165.78,40.00 L166.89,40.17 L168.00,40.35 L169.11,40.54 L170.22,40.73 L171.33,40.93 L172.44,41.13 L173.55,41.35 L174.66,41.57 L175.77,41.79 L176.88,42.02 L177.99,42.26 L179.10,42.51 L180.21,42.76 L181.32,43.02 L182.43,43.28 L183.54,43.55 L184.65,43.83 L185.76,44.11 L186.87,44.40 L187.98,44.70 L189.10,45.01 L190.21,45.32 L191.32,45.63 L192.43,45.96 L193.54,46.29 L194.65,46.62 L195.76,46.97 L196.87,47.32 L197.98,47.67 L199.09,48.04 L200.20,48.40 L201.31,48.78 L202.42,49.16 L203.53,49.55 L204.64,49.95 L205.75,50.35 L206.86,50.76 L207.97,51.17 L209.08,51.59 L210.19,52.02 L211.30,52.46 L212.41,52.90 L213.52,53.35 L214.63,53.80 L215.74,54.26 L216.85,54.73 L217.96,55.20 L219.08,55.69 L220.19,56.17 L221.30,56.67 L222.41,57.17 L223.52,57.67 L224.63,58.19 L225.74,58.71 L226.85,59.23 L227.96,59.77 L229.07,60.31 L230.18,60.85 L231.29,61.40 L232.40,61.96 L233.51,62.53 L234.62,63.10 L235.73,63.68 L236.84,64.27 L237.95,64.86 L239.06,65.46 L240.17,66.06 L241.28,66.67 L242.39,67.29 L243.50,67.92 L244.61,68.55 L245.72,69.18 L246.83,69.83 L247.94,70.48 L249.06,71.14 L250.17,71.80 L251.28,72.47 L252.39,73.15 L253.50,73.83 L254.61,74.52 L255.72,75.22 L256.83,75.92 L257.94,76.63 L259.05,77.35 L260.16,78.07 L261.27,78.80 L262.38,79.54 L263.49,80.28 L264.60,81.03 L265.71,81.78 L266.82,82.55 L267.93,83.31 L269.04,84.09 L270.15,84.87 L271.26,85.66 L272.37,86.46 L273.48,87.26 L274.59,88.06 L275.70,88.88 L276.81,89.70 L277.92,90.53 L279.04,91.36 L280.15,92.20 L281.26,93.05 L282.37,93.90 L283.48,94.76 L284.59,95.63 L285.70,96.50 L286.81,97.38 L287.92,98.27 L289.03,99.16 L290.14,100.06 L291.25,100.97 L292.36,101.88 L293.47,102.80 L294.58,103.73 L295.69,104.66 L296.80,105.60 L297.91,106.54 L299.02,107.50 L300.13,108.46 L301.24,109.42 L302.35,110.39 L303.46,111.37 L304.57,112.35 L305.68,113.35 L306.79,114.34 L307.90,115.35 L309.02,116.36 L310.13,117.38 L311.24,118.40 L312.35,119.43 L313.46,120.47 L314.57,121.51 L315.68,122.56 L316.79,123.62 L317.90,124.68 L319.01,125.75 L320.12,126.83 L321.23,127.91 L322.34,129.00 L323.45,130.10 L324.56,131.20 L325.67,132.31 L326.78,133.42 L327.89,134.55 L329.00,135.68 L330.11,136.81 L331.22,137.95 L332.33,139.10 L333.44,140.26 L334.55,141.42 L335.66,142.59 L336.77,143.76 L337.88,144.94 L338.99,146.13 L340.11,147.32 L341.22,148.52 L342.33,149.73 L343.44,150.95 L344.55,152.17 L345.66,153.39 L346.77,154.63 L347.88,155.87 L348.99,157.11 L350.10,158.37 L351.21,159.63 L352.32,160.89 L353.43,162.17 L354.54,163.44 L355.65,164.73 L356.76,166.02 L357.87,167.32 L358.98,168.63 L360.09,169.94 L361.20,171.26 L362.31,172.58 L363.42,173.91 L364.53,175.25 L365.64,176.60 L366.75,177.95 L367.86,179.31 L368.97,180.67 L370.09,182.04 L371.20,183.42 L372.31,184.80 L373.42,186.20 L374.53,187.59 L375.64,189.00 L376.75,190.41 L377.86,191.82 L378.97,193.25 L380.08,194.68 L381.19,196.11 L382.30,197.56 L383.41,199.01 L384.52,200.46 L385.63,201.92 L386.74,203.39 L387.85,204.87 L388.96,206.35 L390.07,207.84 L391.18,209.34 L392.29,210.84 L393.40,212.35 L394.51,213.86 L395.62,215.38 L396.73,216.91 L397.84,218.45 L398.95,219.99 L400.07,221.53 L401.18,223.09 L402.29,224.65 L403.40,226.22 L404.51,227.79 L405.62,229.37 L406.73,230.96 L407.84,232.55 L408.95,234.15 L410.06,235.76 L411.17,237.37 L412.28,238.99 L413.39,240.62 L414.50,242.25" stroke="#000" stroke-width="1.55" stroke-dasharray="5.5 4.76"/>
<path d="M82.50,281.49 L83.61,281.79 L84.72,282.08 L85.83,282.36 L86.94,282.64 L88.05,282.91 L89.16,283.17 L90.27,283.43 L91.38,283.68 L92.49,283.93 L93.60,284.17 L94.71,284.40 L95.82,284.63 L96.93,284.85 L98.05,285.07 L99.16,285.28 L100.27,285.48 L101.38,285.68 L102.49,285.87 L103.60,286.06 L104.71,286.23 L105.82,286.41 L106.93,286.58 L108.04,286.74 L109.15,286.89 L110.26,287.04 L111.37,287.18 L112.48,287.32 L113.59,287.45 L114.70,287.58 L115.81,287.70 L116.92,287.81 L118.03,287.91 L119.14,288.02 L120.25,288.11 L121.36,288.20 L122.47,288.28 L123.58,288.36 L124.69,288.43 L125.80,288.49 L126.91,288.55 L128.03,288.60 L129.14,288.65 L130.25,288.69 L131.36,288.72 L132.47,288.75 L133.58,288.77 L134.69,288.79 L135.80,288.80 L136.91,288.80 L138.02,288.80 L139.13,288.79 L140.24,288.77 L141.35,288.75 L142.46,288.72 L143.57,288.69 L144.68,288.64 L145.79,288.59 L146.90,288.54 L148.01,288.48 L149.12,288.41 L150.23,288.34 L151.34,288.25 L152.45,288.17 L153.56,288.07 L154.67,287.97 L155.78,287.86 L156.89,287.75 L158.01,287.63 L159.12,287.50 L160.23,287.37 L161.34,287.23 L162.45,287.08 L163.56,286.93 L164.67,286.77 L165.78,286.60 L166.89,286.43 L168.00,286.25 L169.11,286.06 L170.22,285.87 L171.33,285.67 L172.44,285.47 L173.55,285.25 L174.66,285.03 L175.77,284.81 L176.88,284.58 L177.99,284.34 L179.10,284.09 L180.21,283.84 L181.32,283.58 L182.43,283.32 L183.54,283.05 L184.65,282.77 L185.76,282.49 L186.87,282.20 L187.98,281.90 L189.10,281.59 L190.21,281.28 L191.32,280.97 L192.43,280.64 L193.54,280.31 L194.65,279.98 L195.76,279.63 L196.87,279.28 L197.98,278.93 L199.09,278.56 L200.20,278.20 L201.31,277.82 L202.42,277.44 L203.53,277.05 L204.64,276.65 L205.75,276.25 L206.86,275.84 L207.97,275.43 L209.08,275.01 L210.19,274.58 L211.30,274.14 L212.41,273.70 L213.52,273.25 L214.63,272.80 L215.74,272.34 L216.85,271.87 L217.96,271.40 L219.08,270.91 L220.19,270.43 L221.30,269.93 L222.41,269.43 L223.52,268.93 L224.63,268.41 L225.74,267.89 L226.85,267.37 L227.96,266.83 L229.07,266.29 L230.18,265.75 L231.29,265.20 L232.40,264.64 L233.51,264.07 L234.62,263.50 L235.73,262.92 L236.84,262.33 L237.95,261.74 L239.06,261.14 L240.17,260.54 L241.28,259.93 L242.39,259.31 L243.50,258.68 L244.61,258.05 L245.72,257.42 L246.83,256.77 L247.94,256.12 L249.06,255.46 L250.17,254.80 L251.28,254.13 L252.39,253.45 L253.50,252.77 L254.61,252.08 L255.72,251.38 L256.83,250.68 L257.94,249.97 L259.05,249.25 L260.16,248.53 L261.27,247.80 L262.38,247.06 L263.49,246.32 L264.60,245.57 L265.71,244.82 L266.82,244.05 L267.93,243.29 L269.04,242.51 L270.15,241.73 L271.26,240.94 L272.37,240.14 L273.48,239.34 L274.59,238.54 L275.70,237.72 L276.81,236.90 L277.92,236.07 L279.04,235.24 L280.15,234.40 L281.26,233.55 L282.37,232.70 L283.48,231.84 L284.59,230.97 L285.70,230.10 L286.81,229.22 L287.92,228.33 L289.03,227.44 L290.14,226.54 L291.25,225.63 L292.36,224.72 L293.47,223.80 L294.58,222.87 L295.69,221.94 L296.80,221.00 L297.91,220.06 L299.02,219.10 L300.13,218.14 L301.24,217.18 L302.35,216.21 L303.46,215.23 L304.57,214.25 L305.68,213.25 L306.79,212.26 L307.90,211.25 L309.02,210.24 L310.13,209.22 L311.24,208.20 L312.35,207.17 L313.46,206.13 L314.57,205.09 L315.68,204.04 L316.79,202.98 L317.90,201.92 L319.01,200.85 L320.12,199.77 L321.23,198.69 L322.34,197.60 L323.45,196.50 L324.56,195.40 L325.67,194.29 L326.78,193.18 L327.89,192.05 L329.00,190.92 L330.11,189.79 L331.22,188.65 L332.33,187.50 L333.44,186.34 L334.55,185.18 L335.66,184.01 L336.77,182.84 L337.88,181.66 L338.99,180.47 L340.11,179.28 L341.22,178.08 L342.33,176.87 L343.44,175.65 L344.55,174.43 L345.66,173.21 L346.77,171.97 L347.88,170.73 L348.99,169.49 L350.10,168.23 L351.21,166.97 L352.32,165.71 L353.43,164.43 L354.54,163.16 L355.65,161.87 L356.76,160.58 L357.87,159.28 L358.98,157.97 L360.09,156.66 L361.20,155.34 L362.31,154.02 L363.42,152.69 L364.53,151.35 L365.64,150.00 L366.75,148.65 L367.86,147.29 L368.97,145.93 L370.09,144.56 L371.20,143.18 L372.31,141.80 L373.42,140.40 L374.53,139.01 L375.64,137.60 L376.75,136.19 L377.86,134.78 L378.97,133.35 L380.08,131.92 L381.19,130.49 L382.30,129.04 L383.41,127.59 L384.52,126.14 L385.63,124.68 L386.74,123.21 L387.85,121.73 L388.96,120.25 L390.07,118.76 L391.18,117.26 L392.29,115.76 L393.40,114.25 L394.51,112.74 L395.62,111.22 L396.73,109.69 L397.84,108.15 L398.95,106.61 L400.07,105.07 L401.18,103.51 L402.29,101.95 L403.40,100.38 L404.51,98.81 L405.62,97.23 L406.73,95.64 L407.84,94.05 L408.95,92.45 L410.06,90.84 L411.17,89.23 L412.28,87.61 L413.39,85.98 L414.50,84.35" stroke="#000" stroke-width="1.55" stroke-dasharray="5.5 4.76"/>
</g>
<path d="M82.5,12.6 H414.5 M82.5,288.9 H414.5" stroke="#000" stroke-width="0.72" fill="none"/>
<path d="M82.5,12.2 V289.29999999999995 M414.5,12.2 V289.29999999999995" stroke="#000" stroke-width="0.8" fill="none"/>
<g style="will-change:transform" font-family="'Liberation Serif', serif"><text x="65.0" y="295.75" font-size="20.4" text-anchor="start" fill="#000" stroke="#fff" stroke-width="0.3">0</text>
<text x="49.13" y="245.54" font-size="20.4" text-anchor="start" fill="#000" stroke="#fff" stroke-width="0.3">0</text>
<text x="59.61" y="245.54" font-size="20.4" text-anchor="start" fill="#000" stroke="#fff" stroke-width="0.3">.</text>
<text x="65.0" y="245.54" font-size="20.4" text-anchor="start" fill="#000" stroke="#fff" stroke-width="0.3">2</text>
<text x="49.13" y="195.33" font-size="20.4" text-anchor="start" fill="#000" stroke="#fff" stroke-width="0.3">0</text>
<text x="59.61" y="195.33" font-size="20.4" text-anchor="start" fill="#000" stroke="#fff" stroke-width="0.3">.</text>
<text x="65.0" y="195.33" font-size="20.4" text-anchor="start" fill="#000" stroke="#fff" stroke-width="0.3">4</text>
<text x="49.13" y="145.12" font-size="20.4" text-anchor="start" fill="#000" stroke="#fff" stroke-width="0.3">0</text>
<text x="59.61" y="145.12" font-size="20.4" text-anchor="start" fill="#000" stroke="#fff" stroke-width="0.3">.</text>
<text x="65.0" y="145.12" font-size="20.4" text-anchor="start" fill="#000" stroke="#fff" stroke-width="0.3">6</text>
<text x="49.13" y="94.91" font-size="20.4" text-anchor="start" fill="#000" stroke="#fff" stroke-width="0.3">0</text>
<text x="59.61" y="94.91" font-size="20.4" text-anchor="start" fill="#000" stroke="#fff" stroke-width="0.3">.</text>
<text x="65.0" y="94.91" font-size="20.4" text-anchor="start" fill="#000" stroke="#fff" stroke-width="0.3">8</text>
<text x="65.0" y="44.7" font-size="20.4" text-anchor="start" fill="#000" stroke="#fff" stroke-width="0.3">1</text>
<path d="M63.78,304.5 H76.25" stroke="#000" stroke-width="0.8" fill="none"/>
<text x="77.95" y="309.7" font-size="20.4" text-anchor="start" fill="#000" stroke="#fff" stroke-width="0.3">0</text>
<text x="88.43" y="309.7" font-size="20.4" text-anchor="start" fill="#000" stroke="#fff" stroke-width="0.3">.</text>
<text x="93.82" y="309.7" font-size="20.4" text-anchor="start" fill="#000" stroke="#fff" stroke-width="0.3">6</text>
<path d="M119.03,304.5 H131.5" stroke="#000" stroke-width="0.8" fill="none"/>
<text x="133.2" y="309.7" font-size="20.4" text-anchor="start" fill="#000" stroke="#fff" stroke-width="0.3">0</text>
<text x="143.68" y="309.7" font-size="20.4" text-anchor="start" fill="#000" stroke="#fff" stroke-width="0.3">.</text>
<text x="149.07" y="309.7" font-size="20.4" text-anchor="start" fill="#000" stroke="#fff" stroke-width="0.3">4</text>
<path d="M174.29,304.5 H186.76" stroke="#000" stroke-width="0.8" fill="none"/>
<text x="188.46" y="309.7" font-size="20.4" text-anchor="start" fill="#000" stroke="#fff" stroke-width="0.3">0</text>
<text x="198.94" y="309.7" font-size="20.4" text-anchor="start" fill="#000" stroke="#fff" stroke-width="0.3">.</text>
<text x="204.33" y="309.7" font-size="20.4" text-anchor="start" fill="#000" stroke="#fff" stroke-width="0.3">2</text>
<text x="243.71" y="309.7" font-size="20.4" text-anchor="start" fill="#000" stroke="#fff" stroke-width="0.3">0</text>
<text x="291.03" y="309.7" font-size="20.4" text-anchor="start" fill="#000" stroke="#fff" stroke-width="0.3">0</text>
<text x="301.51" y="309.7" font-size="20.4" text-anchor="start" fill="#000" stroke="#fff" stroke-width="0.3">.</text>
<text x="306.9" y="309.7" font-size="20.4" text-anchor="start" fill="#000" stroke="#fff" stroke-width="0.3">2</text>
<text x="346.28" y="309.7" font-size="20.4" text-anchor="start" fill="#000" stroke="#fff" stroke-width="0.3">0</text>
<text x="356.76" y="309.7" font-size="20.4" text-anchor="start" fill="#000" stroke="#fff" stroke-width="0.3">.</text>
<text x="362.15" y="309.7" font-size="20.4" text-anchor="start" fill="#000" stroke="#fff" stroke-width="0.3">4</text>
<g transform="translate(27.8,153.6) scale(1.0)" fill="none" stroke="#000" stroke-linecap="round" stroke-linejoin="round"><path d="M0.7,3.8 C1.4,1.0 2.0,-2.0 2.7,-4.8 C3.5,-7.8 5.2,-9.45 7.0,-9.45 C8.9,-9.45 10.0,-8.0 9.7,-5.6 C9.4,-2.5 7.0,0.05 4.9,0.05 C3.3,0.05 2.2,-1.0 2.15,-2.6" stroke-width="0.75"/><path d="M8.4,-9.0 C9.7,-8.3 10.0,-6.6 9.4,-4.4 C9.0,-3.0 8.2,-1.8 7.2,-0.9" stroke-width="1.25"/><path d="M0.75,3.7 C1.2,1.8 1.6,0.0 2.05,-2.0" stroke-width="1.25"/></g>
<g transform="translate(234.9,335.7) scale(1.0)" fill="none" stroke="#000" stroke-linecap="round" stroke-linejoin="round"><path d="M0.4,-6.6 C0.9,-8.2 2.0,-8.9 3.1,-8.9 C4.6,-8.9 5.5,-7.8 5.2,-6.2 L4.5,-2.9 C4.2,-1.2 3.2,0.0 2.0,0.0 C1.4,0.0 0.9,-0.3 0.8,-0.9" stroke-width="0.85"/><path d="M9.6,-7.6 C9.6,-8.4 8.9,-8.9 8.1,-8.9 C6.8,-8.9 5.9,-7.8 5.5,-6.3 L4.8,-3.0 C4.5,-1.4 5.2,0.0 6.7,0.0 C8.4,0.0 9.6,-1.3 10.0,-2.6" stroke-width="0.85"/><path d="M5.3,-6.6 L4.55,-2.7" stroke-width="1.2"/><circle cx="9.2" cy="-7.5" r="0.85" fill="#000" stroke="none"/><circle cx="1.2" cy="-1.0" r="0.85" fill="#000" stroke="none"/></g>
<path d="M246.9,340.4 L254.4,320.1" stroke="#000" stroke-width="0.8" fill="none"/>
<g transform="translate(256.0,335.7) scale(1.0)" fill="none" stroke="#000" stroke-linecap="round" stroke-linejoin="round"><path d="M3.3,-12.8 L1.0,-3.2 C0.6,-1.4 1.0,0.0 2.3,0.0 C3.8,0.0 5.0,-1.4 5.6,-3.0" stroke-width="0.85"/><path d="M3.2,-12.6 L1.0,-3.0 C0.8,-1.8 0.9,-1.0 1.3,-0.5" stroke-width="1.3"/><path d="M0.2,-8.55 H6.0" stroke-width="0.7"/></g>
<g transform="translate(100.3,62.0) scale(1.0)" fill="none" stroke="#000" stroke-linecap="round" stroke-linejoin="round"><path d="M0.7,3.8 C1.4,1.0 2.0,-2.0 2.7,-4.8 C3.5,-7.8 5.2,-9.45 7.0,-9.45 C8.9,-9.45 10.0,-8.0 9.7,-5.6 C9.4,-2.5 7.0,0.05 4.9,0.05 C3.3,0.05 2.2,-1.0 2.15,-2.6" stroke-width="0.75"/><path d="M8.4,-9.0 C9.7,-8.3 10.0,-6.6 9.4,-4.4 C9.0,-3.0 8.2,-1.8 7.2,-0.9" stroke-width="1.25"/><path d="M0.75,3.7 C1.2,1.8 1.6,0.0 2.05,-2.0" stroke-width="1.25"/></g>
<text transform="translate(110.8,66.6) scale(1.0,1)" font-size="14" fill="#000" stroke="#fff" stroke-width="0.2">1</text>
<g transform="translate(110.3,54.0) scale(1.0)" fill="none" stroke="#000" stroke-linecap="round" stroke-linejoin="round"><path d="M4.9,-8.3 L2.2,-0.3" stroke-width="1.35"/><path d="M2.4,-8.5 H7.3" stroke-width="0.7"/><path d="M0.2,-0.1 H7.6 C8.2,-1.0 8.6,-2.2 8.8,-3.3" stroke-width="0.85"/></g>
<g transform="translate(100.3,276.3) scale(1.0)" fill="none" stroke="#000" stroke-linecap="round" stroke-linejoin="round"><path d="M0.7,3.8 C1.4,1.0 2.0,-2.0 2.7,-4.8 C3.5,-7.8 5.2,-9.45 7.0,-9.45 C8.9,-9.45 10.0,-8.0 9.7,-5.6 C9.4,-2.5 7.0,0.05 4.9,0.05 C3.3,0.05 2.2,-1.0 2.15,-2.6" stroke-width="0.75"/><path d="M8.4,-9.0 C9.7,-8.3 10.0,-6.6 9.4,-4.4 C9.0,-3.0 8.2,-1.8 7.2,-0.9" stroke-width="1.25"/><path d="M0.75,3.7 C1.2,1.8 1.6,0.0 2.05,-2.0" stroke-width="1.25"/></g>
<text transform="translate(110.4,282.3) scale(1.13,1)" font-size="14" fill="#000" stroke="#fff" stroke-width="0.2">2</text>
<g transform="translate(110.3,268.7) scale(1.0)" fill="none" stroke="#000" stroke-linecap="round" stroke-linejoin="round"><path d="M4.9,-8.3 L2.2,-0.3" stroke-width="1.35"/><path d="M2.4,-8.5 H7.3" stroke-width="0.7"/><path d="M0.2,-0.1 H7.6 C8.2,-1.0 8.6,-2.2 8.8,-3.3" stroke-width="0.85"/></g>
<g transform="translate(376.2,101.3) scale(1.0)" fill="none" stroke="#000" stroke-linecap="round" stroke-linejoin="round"><path d="M0.7,3.8 C1.4,1.0 2.0,-2.0 2.7,-4.8 C3.5,-7.8 5.2,-9.45 7.0,-9.45 C8.9,-9.45 10.0,-8.0 9.7,-5.6 C9.4,-2.5 7.0,0.05 4.9,0.05 C3.3,0.05 2.2,-1.0 2.15,-2.6" stroke-width="0.75"/><path d="M8.4,-9.0 C9.7,-8.3 10.0,-6.6 9.4,-4.4 C9.0,-3.0 8.2,-1.8 7.2,-0.9" stroke-width="1.25"/><path d="M0.75,3.7 C1.2,1.8 1.6,0.0 2.05,-2.0" stroke-width="1.25"/></g>
<text transform="translate(387.4,106.0) scale(1.0,1)" font-size="14" fill="#000" stroke="#fff" stroke-width="0.2">1</text>
<g transform="translate(386.7,93.5) scale(1.0)" fill="none" stroke="#000" stroke-linecap="round" stroke-linejoin="round"><path d="M4.3,-8.5 L2.0,-0.3" stroke-width="1.35"/><path d="M2.2,-8.7 H6.6 C8.3,-8.7 9.4,-7.9 9.3,-6.8 C9.1,-5.2 7.4,-4.35 5.6,-4.35 H3.4" stroke-width="0.75"/><path d="M9.0,-7.9 C9.5,-7.0 9.2,-5.9 8.2,-5.1" stroke-width="1.3"/><path d="M0.2,-0.1 H3.9" stroke-width="0.7"/><path d="M5.6,-4.35 C6.9,-4.2 7.3,-3.4 7.3,-2.4 L7.3,-1.1 C7.4,-0.1 8.2,0.1 8.9,-0.1 C9.7,-0.4 10.2,-1.2 10.4,-2.0" stroke-width="0.95"/></g>
<g transform="translate(376.2,238.4) scale(1.0)" fill="none" stroke="#000" stroke-linecap="round" stroke-linejoin="round"><path d="M0.7,3.8 C1.4,1.0 2.0,-2.0 2.7,-4.8 C3.5,-7.8 5.2,-9.45 7.0,-9.45 C8.9,-9.45 10.0,-8.0 9.7,-5.6 C9.4,-2.5 7.0,0.05 4.9,0.05 C3.3,0.05 2.2,-1.0 2.15,-2.6" stroke-width="0.75"/><path d="M8.4,-9.0 C9.7,-8.3 10.0,-6.6 9.4,-4.4 C9.0,-3.0 8.2,-1.8 7.2,-0.9" stroke-width="1.25"/><path d="M0.75,3.7 C1.2,1.8 1.6,0.0 2.05,-2.0" stroke-width="1.25"/></g>
<text transform="translate(386.4,242.2) scale(1.13,1)" font-size="14" fill="#000" stroke="#fff" stroke-width="0.2">2</text>
<g transform="translate(386.7,230.0) scale(1.0)" fill="none" stroke="#000" stroke-linecap="round" stroke-linejoin="round"><path d="M4.3,-8.5 L2.0,-0.3" stroke-width="1.35"/><path d="M2.2,-8.7 H6.6 C8.3,-8.7 9.4,-7.9 9.3,-6.8 C9.1,-5.2 7.4,-4.35 5.6,-4.35 H3.4" stroke-width="0.75"/><path d="M9.0,-7.9 C9.5,-7.0 9.2,-5.9 8.2,-5.1" stroke-width="1.3"/><path d="M0.2,-0.1 H3.9" stroke-width="0.7"/><path d="M5.6,-4.35 C6.9,-4.2 7.3,-3.4 7.3,-2.4 L7.3,-1.1 C7.4,-0.1 8.2,0.1 8.9,-0.1 C9.7,-0.4 10.2,-1.2 10.4,-2.0" stroke-width="0.95"/></g>
<g transform="translate(322.8,53.9) scale(1.0)" fill="none" stroke="#000" stroke-linecap="round" stroke-linejoin="round"><path d="M0.7,3.8 C1.4,1.0 2.0,-2.0 2.7,-4.8 C3.5,-7.8 5.2,-9.45 7.0,-9.45 C8.9,-9.45 10.0,-8.0 9.7,-5.6 C9.4,-2.5 7.0,0.05 4.9,0.05 C3.3,0.05 2.2,-1.0 2.15,-2.6" stroke-width="0.75"/><path d="M8.4,-9.0 C9.7,-8.3 10.0,-6.6 9.4,-4.4 C9.0,-3.0 8.2,-1.8 7.2,-0.9" stroke-width="1.25"/><path d="M0.75,3.7 C1.2,1.8 1.6,0.0 2.05,-2.0" stroke-width="1.25"/></g>
<text transform="translate(332.7,56.5) scale(1.13,1)" font-size="14" fill="#000" stroke="#fff" stroke-width="0.2">0</text>
<g transform="translate(239.7,91.4) scale(1.0)" fill="none" stroke="#000" stroke-linecap="round" stroke-linejoin="round"><path d="M0.7,3.8 C1.4,1.0 2.0,-2.0 2.7,-4.8 C3.5,-7.8 5.2,-9.45 7.0,-9.45 C8.9,-9.45 10.0,-8.0 9.7,-5.6 C9.4,-2.5 7.0,0.05 4.9,0.05 C3.3,0.05 2.2,-1.0 2.15,-2.6" stroke-width="0.75"/><path d="M8.4,-9.0 C9.7,-8.3 10.0,-6.6 9.4,-4.4 C9.0,-3.0 8.2,-1.8 7.2,-0.9" stroke-width="1.25"/><path d="M0.75,3.7 C1.2,1.8 1.6,0.0 2.05,-2.0" stroke-width="1.25"/></g>
<text transform="translate(250.1,94.8) scale(1.0,1)" font-size="14" fill="#000" stroke="#fff" stroke-width="0.2">1</text>
<g transform="translate(239.7,241.8) scale(1.0)" fill="none" stroke="#000" stroke-linecap="round" stroke-linejoin="round"><path d="M0.7,3.8 C1.4,1.0 2.0,-2.0 2.7,-4.8 C3.5,-7.8 5.2,-9.45 7.0,-9.45 C8.9,-9.45 10.0,-8.0 9.7,-5.6 C9.4,-2.5 7.0,0.05 4.9,0.05 C3.3,0.05 2.2,-1.0 2.15,-2.6" stroke-width="0.75"/><path d="M8.4,-9.0 C9.7,-8.3 10.0,-6.6 9.4,-4.4 C9.0,-3.0 8.2,-1.8 7.2,-0.9" stroke-width="1.25"/><path d="M0.75,3.7 C1.2,1.8 1.6,0.0 2.05,-2.0" stroke-width="1.25"/></g>
<text transform="translate(249.9,244.1) scale(1.13,1)" font-size="14" fill="#000" stroke="#fff" stroke-width="0.2">2</text>
<g transform="translate(108.6,165.8) scale(1.0) skewX(-7)" fill="none" stroke="#bf0040" stroke-linecap="round" stroke-linejoin="round"><path d="M6.7,-7.2 C6.8,-8.5 5.8,-9.3 4.6,-9.3 C3.0,-9.3 1.9,-8.2 1.9,-6.9 C1.9,-5.7 2.8,-5.3 4.4,-4.9 C6.0,-4.5 7.0,-3.8 7.0,-2.5 C7.0,-0.9 5.6,0.1 3.9,0.1 C2.3,0.1 1.1,-0.7 1.0,-1.9" stroke-width="0.85"/><path d="M2.0,-6.6 C2.2,-5.6 3.2,-5.2 4.4,-4.9 C5.8,-4.5 6.8,-4.0 6.95,-2.9" stroke-width="1.3"/><circle cx="6.5" cy="-7.3" r="0.85" fill="#bf0040" stroke="none"/><circle cx="1.3" cy="-2.0" r="0.85" fill="#bf0040" stroke="none"/></g>
<path d="M119.2,165.3 H128.0" stroke="#bf0040" stroke-width="0.8" fill="none"/>
<g transform="translate(276.6,165.8) scale(1.0) skewX(-7)" fill="none" stroke="#ff0000" stroke-linecap="round" stroke-linejoin="round"><path d="M6.7,-7.2 C6.8,-8.5 5.8,-9.3 4.6,-9.3 C3.0,-9.3 1.9,-8.2 1.9,-6.9 C1.9,-5.7 2.8,-5.3 4.4,-4.9 C6.0,-4.5 7.0,-3.8 7.0,-2.5 C7.0,-0.9 5.6,0.1 3.9,0.1 C2.3,0.1 1.1,-0.7 1.0,-1.9" stroke-width="0.85"/><path d="M2.0,-6.6 C2.2,-5.6 3.2,-5.2 4.4,-4.9 C5.8,-4.5 6.8,-4.0 6.95,-2.9" stroke-width="1.3"/><circle cx="6.5" cy="-7.3" r="0.85" fill="#ff0000" stroke="none"/><circle cx="1.3" cy="-2.0" r="0.85" fill="#ff0000" stroke="none"/></g>
<path d="M286.9,165.3 H296.3 M291.6,160.4 V170.0" stroke="#ff0000" stroke-width="0.8" fill="none"/></g>
</svg>
</body></html>
